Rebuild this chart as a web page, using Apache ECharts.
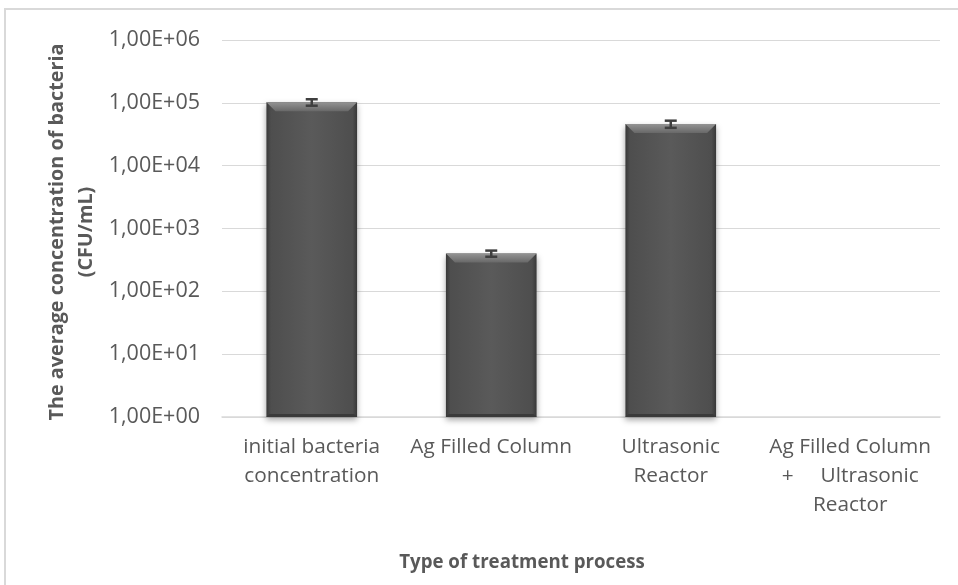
<!DOCTYPE html>
<html>
<head>
<meta charset="utf-8">
<script src="https://cdn.jsdelivr.net/npm/echarts@6/dist/echarts.min.js"></script>
<style>
html,body{margin:0;padding:0;background:#fff;}
#c{width:958px;height:585px;}
</style>
</head>
<body>
<div id="c"></div>
<script>
// ---- data ----
const categories = ['initial bacteria\nconcentration', 'Ag Filled Column', 'Ultrasonic\nReactor', 'Ag Filled Column\n+     Ultrasonic\nReactor'];
const means = [102000, 400, 46000, null];
const errors = [12000, 45, 6000, null];
const yTitle = 'The average concentration of bacteria\n(CFU/mL)';
const xTitle = 'Type of treatment process';

const FONT = "'Open Sans', 'Noto Sans', sans-serif";
const TXT = '#595959';

function fmt(v) {
  const e = Math.round(Math.log10(v));
  const m = v / Math.pow(10, e);
  const s = m.toFixed(2).replace('.', ',');
  return s + 'E' + (e >= 0 ? '+' : '-') + String(Math.abs(e)).padStart(2, '0');
}

const barData = means.map((v, i) => [i, v]);
const errData = means.map((v, i) => [i, v == null ? null : v - errors[i], v == null ? null : v + errors[i]]);

const chart = echarts.init(document.getElementById('c'), null, {renderer: 'canvas'});
chart.setOption({
  backgroundColor: '#fff',
  animation: false,
  grid: {left: 222, right: 18, top: 40, bottom: 168},
  xAxis: {
    type: 'category',
    data: categories,
    axisLine: {lineStyle: {color: '#d9d9d9', width: 1.5}},
    axisTick: {show: false},
    axisLabel: {color: TXT, fontFamily: FONT, fontSize: 20.8, lineHeight: 29, margin: 16, interval: 0}
  },
  yAxis: {
    type: 'log',
    logBase: 10,
    min: 1,
    max: 1e6,
    axisLine: {show: false},
    axisTick: {show: false},
    splitLine: {lineStyle: {color: '#d9d9d9', width: 1}},
    axisLabel: {color: TXT, fontFamily: FONT, fontSize: 21.5, margin: 22, formatter: fmt}
  },
  graphic: [
    {type: 'rect', silent: true, z: -10, shape: {x: 5, y: 9, width: 1100, height: 1100},
     style: {fill: 'none', stroke: '#d9d9d9', lineWidth: 2}},
    {type: 'text', x: 72, y: 232, rotation: Math.PI / 2,
     style: {text: yTitle, fill: TXT, font: 'bold 19.8px ' + FONT, textAlign: 'center', textVerticalAlign: 'middle', lineHeight: 29}},
    {type: 'text', x: 522, y: 563,
     style: {text: xTitle, fill: TXT, font: 'bold 18.7px ' + FONT, textAlign: 'center', textVerticalAlign: 'middle'}}
  ],
  series: [
    {
      type: 'custom',
      data: barData,
      encode: {x: 0, y: 1},
      renderItem: function (params, api) {
        const v = api.value(1);
        if (v == null || isNaN(v)) return null;
        const i = api.value(0);
        const top = api.coord([i, v]);
        const base = api.coord([i, 1]);
        const band = api.coord([1, 1])[0] - api.coord([0, 1])[0];
        const w = band * 0.505;
        const x0 = top[0] - w / 2, x1 = top[0] + w / 2;
        const yT = top[1], yB = base[1];
        const b = 9;
        return {
          type: 'group',
          children: [
            {type: 'rect', shape: {x: x0, y: yT, width: w, height: yB - yT},
             style: {
               fill: new echarts.graphic.LinearGradient(0, 0, 1, 0, [
                 {offset: 0, color: '#383838'}, {offset: 0.05, color: '#4e4e4e'},
                 {offset: 0.5, color: '#5a5a5a'}, {offset: 0.95, color: '#4e4e4e'}, {offset: 1, color: '#383838'}]),
               shadowBlur: 6, shadowColor: 'rgba(0,0,0,0.35)', shadowOffsetY: 3
             }},
            {type: 'polygon', shape: {points: [[x0, yT], [x1, yT], [x1 - b, yT + b], [x0 + b, yT + b]]},
             style: {fill: new echarts.graphic.LinearGradient(0, 0, 0, 1, [
               {offset: 0, color: '#939393'}, {offset: 1, color: '#686868'}])}},
            {type: 'polygon', shape: {points: [[x0, yB], [x1, yB], [x1 - 3, yB - 3], [x0 + 3, yB - 3]]},
             style: {fill: '#3a3a3a'}}
          ]
        };
      },
      z: 2
    },
    {
      type: 'custom',
      data: errData,
      encode: {x: 0, y: [1, 2]},
      renderItem: function (params, api) {
        const lo = api.value(1), hi = api.value(2);
        if (lo == null || isNaN(lo)) return null;
        const i = api.value(0);
        const p1 = api.coord([i, hi]);
        const p2 = api.coord([i, lo]);
        const hw = 6;
        const st = {stroke: '#3f3f3f', lineWidth: 2.5};
        return {
          type: 'group',
          children: [
            {type: 'line', shape: {x1: p1[0], y1: p1[1], x2: p2[0], y2: p2[1]}, style: st},
            {type: 'line', shape: {x1: p1[0] - hw, y1: p1[1], x2: p1[0] + hw, y2: p1[1]}, style: st},
            {type: 'line', shape: {x1: p2[0] - hw, y1: p2[1], x2: p2[0] + hw, y2: p2[1]}, style: st}
          ]
        };
      },
      z: 3
    }
  ]
});
</script>
</body>
</html>
